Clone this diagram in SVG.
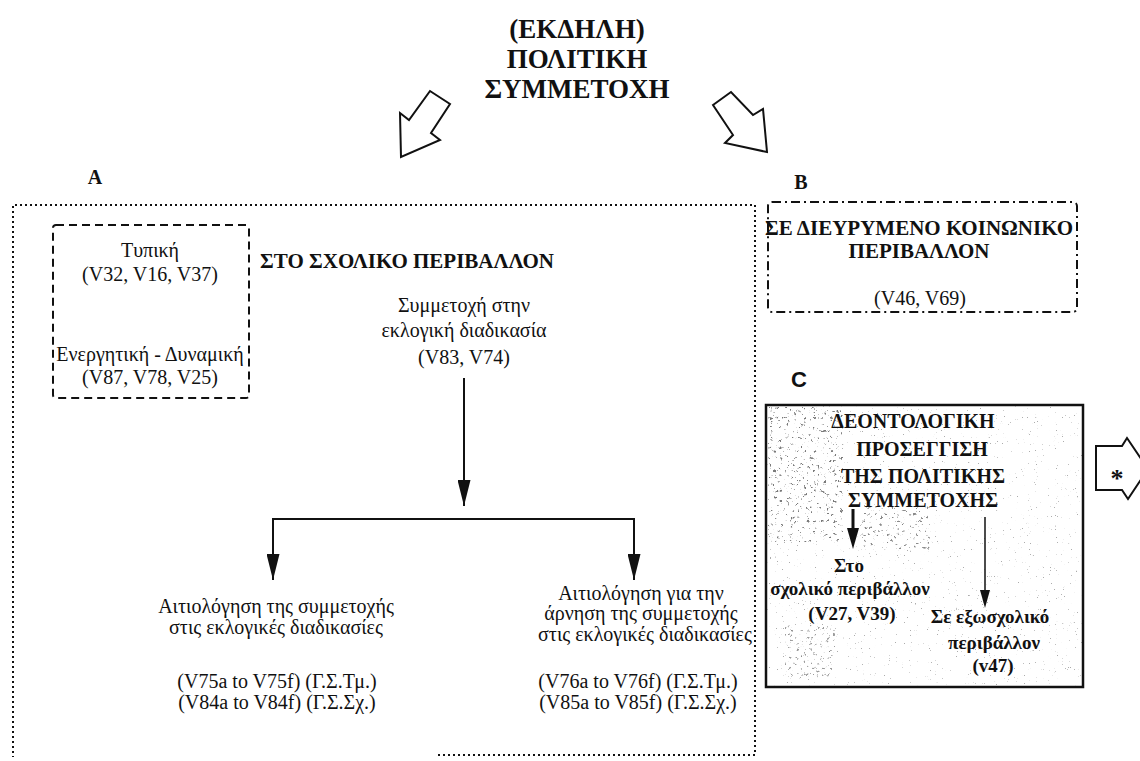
<svg xmlns="http://www.w3.org/2000/svg" width="1140" height="761" viewBox="0 0 1140 761">
<style>
  text { font-family: "Liberation Serif", "DejaVu Serif", serif; fill: #111; }
  .title { font-size: 27px; font-weight: bold; text-anchor: middle; }
  .lbl { font-size: 20px; font-weight: bold; text-anchor: middle; }
  .lblc { font-family: "Liberation Sans", Arial, sans-serif; font-size: 22px; font-weight: bold; text-anchor: middle; }
  .head { font-size: 21px; font-weight: bold; text-anchor: middle; }
  .t { font-size: 20px; text-anchor: middle; }
  .tb { font-size: 19px; font-weight: bold; text-anchor: middle; }
  .ch { font-size: 20px; font-weight: bold; text-anchor: middle; }
  .hollow { fill: #fff; stroke: #111; stroke-width: 2; stroke-linejoin: miter; }
  .ln { stroke: #111; stroke-width: 2; fill: none; }
</style>
<defs>
  <marker id="ah" markerWidth="26" markerHeight="13" refX="26" refY="6.5" orient="auto-start-reverse" markerUnits="userSpaceOnUse" viewBox="0 0 26 13">
    <path d="M0,0 L26,6.5 L0,13 Z" fill="#111"/>
  </marker>
  <filter id="speckle" x="0" y="0" width="100%" height="100%">
    <feTurbulence type="fractalNoise" baseFrequency="0.85" numOctaves="2" seed="7" result="n"/>
    <feColorMatrix in="n" type="matrix" values="0 0 0 0 0.25  0 0 0 0 0.25  0 0 0 0 0.25  14 0 0 0 -10.2"/>
  </filter>
  <filter id="speckle2" x="0" y="0" width="100%" height="100%">
    <feTurbulence type="fractalNoise" baseFrequency="0.3" numOctaves="4" seed="11" result="n"/>
    <feColorMatrix in="n" type="matrix" values="0 0 0 0 0.1  0 0 0 0 0.1  0 0 0 0 0.1  10 0 0 0 -6.6"/>
  </filter>
</defs>

<rect width="1140" height="761" fill="#fff"/>

<g id="title">
  <text class="title" x="577" y="38">(ΕΚΔΗΛΗ)</text>
  <text class="title" x="577" y="68">ΠΟΛΙΤΙΚΗ</text>
  <text class="title" x="577" y="98">ΣΥΜΜΕΤΟΧΗ</text>
</g>

<g id="big-arrows">
  <polygon class="hollow" points="400,113 409,120 430,91 450,104 431,133 440,140 401,157"/>
  <polygon class="hollow" points="713,105 731,92 753,115 763,109 767,152 725,143 733,135"/>
</g>

<g id="section-A">
  <text class="lbl" x="95" y="184">A</text>
  <path d="M438,755 L755,755 L755,205 L13,205 L13,757" fill="none" stroke="#111" stroke-width="2" stroke-dasharray="2,3"/>
  <text class="head" x="407" y="268">ΣΤΟ ΣΧΟΛΙΚΟ ΠΕΡΙΒΑΛΛΟΝ</text>
</g>

<g id="node-typiki">
  <rect x="53" y="225" width="196" height="173" rx="3" fill="none" stroke="#111" stroke-width="2" stroke-dasharray="8,5"/>
  <text class="t" x="150" y="257">Τυπική</text>
  <text class="t" x="150" y="281">(V32, V16, V37)</text>
  <text class="t" x="150" y="361">Ενεργητική - Δυναμική</text>
  <text class="t" x="150" y="384">(V87, V78, V25)</text>
</g>

<g id="node-eklogiki">
  <text class="t" x="464" y="312">Συμμετοχή στην</text>
  <text class="t" x="464" y="337">εκλογική διαδικασία</text>
  <text class="t" x="464" y="364">(V83, V74)</text>
</g>

<g id="node-aitiologisi">
  <text class="t" x="276" y="613">Αιτιολόγηση της συμμετοχής</text>
  <text class="t" x="276" y="634">στις εκλογικές διαδικασίες</text>
  <text class="t" x="277" y="688">(V75a to V75f) (Γ.Σ.Τμ.)</text>
  <text class="t" x="277" y="709">(V84a to V84f) (Γ.Σ.Σχ.)</text>
</g>

<g id="node-arnisi">
  <text class="t" x="641" y="600">Αιτιολόγηση για την</text>
  <text class="t" x="641" y="620">άρνηση της  συμμετοχής</text>
  <text class="t" x="645" y="641">στις εκλογικές διαδικασίες</text>
  <text class="t" x="638" y="688">(V76a to V76f) (Γ.Σ.Τμ.)</text>
  <text class="t" x="638" y="709">(V85a to V85f) (Γ.Σ.Σχ.)</text>
</g>

<g id="section-B">
  <text class="lbl" x="801" y="189">B</text>
  <rect x="768" y="202" width="309" height="110" rx="4" fill="none" stroke="#111" stroke-width="2" stroke-dasharray="9,4,2,4"/>
  <text class="head" x="919" y="235" font-size="19">ΣΕ ΔΙΕΥΡΥΜΕΝΟ ΚΟΙΝΩΝΙΚΟ</text>
  <text class="head" x="919" y="258" font-size="19">ΠΕΡΙΒΑΛΛΟΝ</text>
  <text class="t" x="920" y="305">(V46, V69)</text>
</g>

<g id="section-C">
  <text class="lblc" x="799" y="387">C</text>
  <rect x="766" y="405" width="317" height="282" fill="#fff" stroke="none"/>
  <rect x="766" y="405" width="317" height="282" filter="url(#speckle)" opacity="0.7"/>
  <rect x="768" y="407" width="75" height="135" filter="url(#speckle2)" opacity="0.8"/>
  <rect x="860" y="505" width="70" height="45" filter="url(#speckle2)" opacity="0.7"/>
  <rect x="785" y="625" width="50" height="55" filter="url(#speckle2)" opacity="0.6"/>
  <rect x="766" y="405" width="317" height="282" fill="none" stroke="#111" stroke-width="2.5"/>
  <text class="ch" x="913" y="428" font-size="21">ΔΕΟΝΤΟΛΟΓΙΚΗ</text>
  <text class="ch" x="922" y="456">ΠΡΟΣΕΓΓΙΣΗ</text>
  <text class="ch" x="923" y="483">ΤΗΣ ΠΟΛΙΤΙΚΗΣ</text>
  <text class="ch" x="923" y="507">ΣΥΜΜΕΤΟΧΗΣ</text>
  <line x1="853" y1="509" x2="853" y2="540" stroke="#111" stroke-width="3"/>
  <path d="M847,528 L859,528 L853,549 Z" fill="#111"/>
  <line x1="985" y1="517" x2="985" y2="600" stroke="#111" stroke-width="1.5"/>
  <path d="M980,590 L990,590 L985,608 Z" fill="#111"/>
  <text class="tb" x="849" y="572">Στο</text>
  <text class="tb" x="850" y="595">σχολικό περιβάλλον</text>
  <text class="tb" x="852" y="620">(V27, V39)</text>
  <text class="tb" x="990" y="623">Σε εξωσχολικό</text>
  <text class="tb" x="994" y="649">περιβάλλον</text>
  <text class="tb" x="993" y="672">(v47)</text>
</g>

<g id="star-arrow">
  <polygon class="hollow" points="1096,446 1122,446 1127,438 1148,469 1128,499 1122,490 1096,490"/>
  <text x="1117" y="487" font-family="Liberation Sans, Arial, sans-serif" font-size="26" font-weight="bold" text-anchor="middle">*</text>
</g>

<g id="connectors">
  <line class="ln" x1="464" y1="378" x2="464" y2="506" marker-end="url(#ah)"/>
  <polyline class="ln" points="273,580 273,519 634,519 634,580" marker-start="url(#ah)" marker-end="url(#ah)"/>
</g>
</svg>
